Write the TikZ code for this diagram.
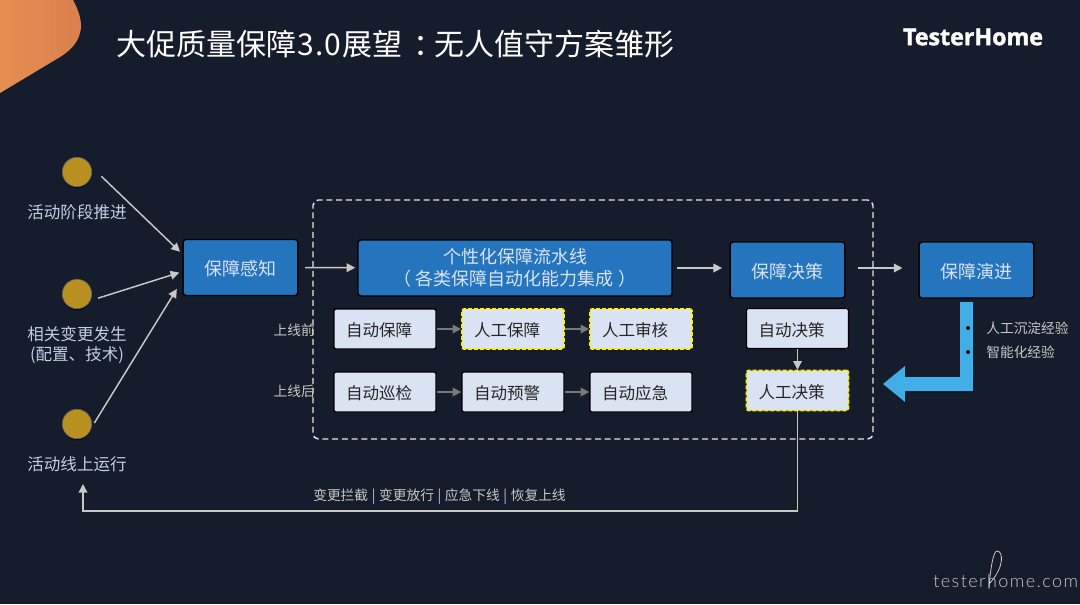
\documentclass[tikz,border=0pt]{standalone}
\usepackage{fontspec}
\setmainfont{Noto Sans CJK SC}
\newfontfamily\logofont{Open Sans}
\newfontfamily\markfont{Lato Light}
\usepackage{xcolor}
\definecolor{fond}{HTML}{151C2C}
\definecolor{bleu}{HTML}{2474BE}
\definecolor{ciel}{HTML}{41AEE8}
\definecolor{pale}{HTML}{DAE3F3}
\definecolor{or}{HTML}{B8901F}
\definecolor{trait}{HTML}{C8C8C4}
\definecolor{terne}{HTML}{7A7A74}
\definecolor{legende}{HTML}{C3CEE2}
\usetikzlibrary{arrows.meta,calc,shadows}

\begin{document}
\begin{tikzpicture}[x=0.75pt,y=-0.75pt,font=\fontsize{12.4pt}{15pt}\selectfont,
  flow/.style={-{Triangle[length=6.5pt,width=6.5pt]},trait,line width=1.1pt},
  sflow/.style={-{Triangle[length=6.5pt,width=6.5pt]},terne,line width=1.1pt},
  txt/.style={execute at begin node=\rule{0pt}{1em}},
  bigbox/.style={txt,draw=black,fill=bleu,text=pale,rounded corners=2pt,line width=1.1pt,inner sep=0pt,
    align=center,minimum height=42pt,minimum width=86pt,font=\fontsize{13.5pt}{16.5pt}\selectfont},
  minibox/.style={txt,draw=black,fill=pale,text=black!85,rounded corners=1.5pt,line width=1pt,
    text width=58.5pt,inner xsep=9pt,inner ysep=0pt,minimum height=30pt,align=left},
  manual/.style={minibox,draw=yellow,line width=1.2pt,dash pattern=on 3pt off 1.5pt},
  event/.style={circle,fill=or,draw=black!60,line width=.5pt,minimum size=22pt,inner sep=0pt,
    drop shadow={shadow xshift=0pt,shadow yshift=-1.2pt,fill=black,opacity=.6}},
  lab/.style={text=legende,align=center,inner sep=0pt},
  small/.style={text=trait,inner sep=0pt,font=\fontsize{10.3pt}{13pt}\selectfont},
  dot/.style={circle,fill=black,minimum size=3pt,inner sep=0pt}
]
\useasboundingbox (0,0) rectangle (1080,604);
\fill[fond] (0,0) rectangle (1080,604);
% ---- coin et titres ----
\shade[left color={rgb,255:red,228;green,143;blue,80},right color={rgb,255:red,218;green,127;blue,78}]
  (0,0) -- (73,0) .. controls (79,11) and (83,23) .. (80,33) .. controls (77,45) and (68,52) .. (60,57) -- (0,93) -- cycle;
\node[txt,anchor=west,text=white,inner sep=0pt,font=\fontsize{22.5pt}{26pt}\selectfont] (titre) at (116,42) {大促质量保障\hspace{1pt}3\hspace{.8pt}.\hspace{.8pt}0\hspace{1.2pt}展望\hspace{8.2pt}：\hspace{-7pt}无人值守方案雏形};
\node[text=white,inner sep=0pt,font=\logofont\bfseries\fontsize{17.4pt}{20pt}\selectfont] (logo) at (973,37) {\addfontfeature{FakeBold=1.6}TesterHome};
\node[anchor=west,text=trait,inner sep=0pt,font=\markfont\fontsize{13.5pt}{16pt}\selectfont] (marque) at (933,581) {\addfontfeature{LetterSpace=8}testerhome.com};
\draw[trait,line width=.6pt] (989,589) .. controls (990,572) and (993,551) .. (997,551) .. controls (1003,551) and (1005,566) .. (990,583);
% ---- cadre ----
\node[draw=white!90!black,dash pattern=on 4.5pt off 2.8pt,line width=1.1pt,rounded corners=4pt,inner sep=0pt,
  minimum width=420pt,minimum height=179.25pt] (cadre) at (593,319.5) {};
% ---- evenements ----
\foreach \y/\nom in {172/evta,294/evtb,424/evtc}{
  \node[event] (\nom) at (77,\y) {};
}
\node[lab] (laba) at (77,212) {活动阶段推进};
\node[lab] (labb) at (77,345) {相关变更发生\\(配置、技术)};
\node[lab] (labc) at (77,464) {活动线上运行};
% ---- blocs ----
\node[bigbox] (percu) at (240.5,267.5) {保障感知};
\node[bigbox,minimum width=235.5pt] (pipe) at (515,268) {个性化保障流水线\\（ 各类保障自动化能力集成 ）};
\node[bigbox] (decis) at (787.5,270) {保障决策};
\node[bigbox] (evol) at (976.5,270) {保障演进};
% ---- lignes ----
\foreach \x/\nom/\sty/\mot in {385/ga/minibox/自动保障,513/gb/manual/人工保障,641/gc/manual/人工审核}{
  \node[\sty] (\nom) at (\x,329) {\mot};
}
\foreach \x/\nom/\mot in {385/xa/自动巡检,513/xb/自动预警,641/xc/自动应急}{
  \node[minibox] (\nom) at (\x,392) {\mot};
}
\node[minibox] (auto) at (797.5,328.5) {自动决策};
\node[manual] (hum) at (797.5,390.5) {人工决策};
\node[small,anchor=east] (avant) at (315,330) {上线前};
\node[small,anchor=east] (apres) at (315,391) {上线后};
% ---- fleches ----
\draw[flow,shorten <=11pt,shorten >=2.5pt] (evta.23) -- (percu.167.7);
\draw[flow,shorten <=6pt,shorten >=2.5pt] (evtb.-26) -- (percu.184.5);
\draw[flow,shorten <=11pt,shorten >=8pt] (evtc.-50) -- (percu.192.3);
\draw[flow,shorten <=5pt,shorten >=1.5pt] (percu) -- (pipe);
\draw[flow,shorten <=3.5pt,shorten >=5.5pt] (pipe.east) -- (pipe.east -| decis.west);
\draw[flow,shorten <=9pt,shorten >=12pt] ([yshift=1.5pt]decis.east) -- ([yshift=1.5pt]evol.west);
\draw[sflow] (ga) -- (gb);
\draw[sflow] (gb) -- (gc);
\draw[sflow] (xa) -- (xb);
\draw[sflow] (xb) -- (xc);
\draw[flow,line width=.9pt] (auto) -- (hum);
\coordinate (retour) at (83,484);
\draw[flow] (hum.south) -- (hum.south |- 0,511) -- (retour |- 0,511) -- (retour);
\node[small,anchor=west] (bilan) at (313,497) {\spaceskip=2.7pt 变更拦截 | 变更放行 | 应急下线 | 恢复上线};
% ---- retour d'experience ----
\fill[ciel,drop shadow={shadow xshift=0.6pt,shadow yshift=-1pt,fill=black,opacity=.45}]
  (960,302) -- (973,302) -- (973,391) -- (905,391) -- (905,402) -- (883,384) -- (905,366) -- (905,377) -- (960,377) -- cycle;
\node[dot] (pta) at (968,328) {};
\node[dot] (ptb) at (968,352) {};
\node[small,anchor=west] (expa) at (986,328) {人工沉淀经验};
\node[small,anchor=west] (expb) at (986,352) {智能化经验};
\end{tikzpicture}
\end{document}
